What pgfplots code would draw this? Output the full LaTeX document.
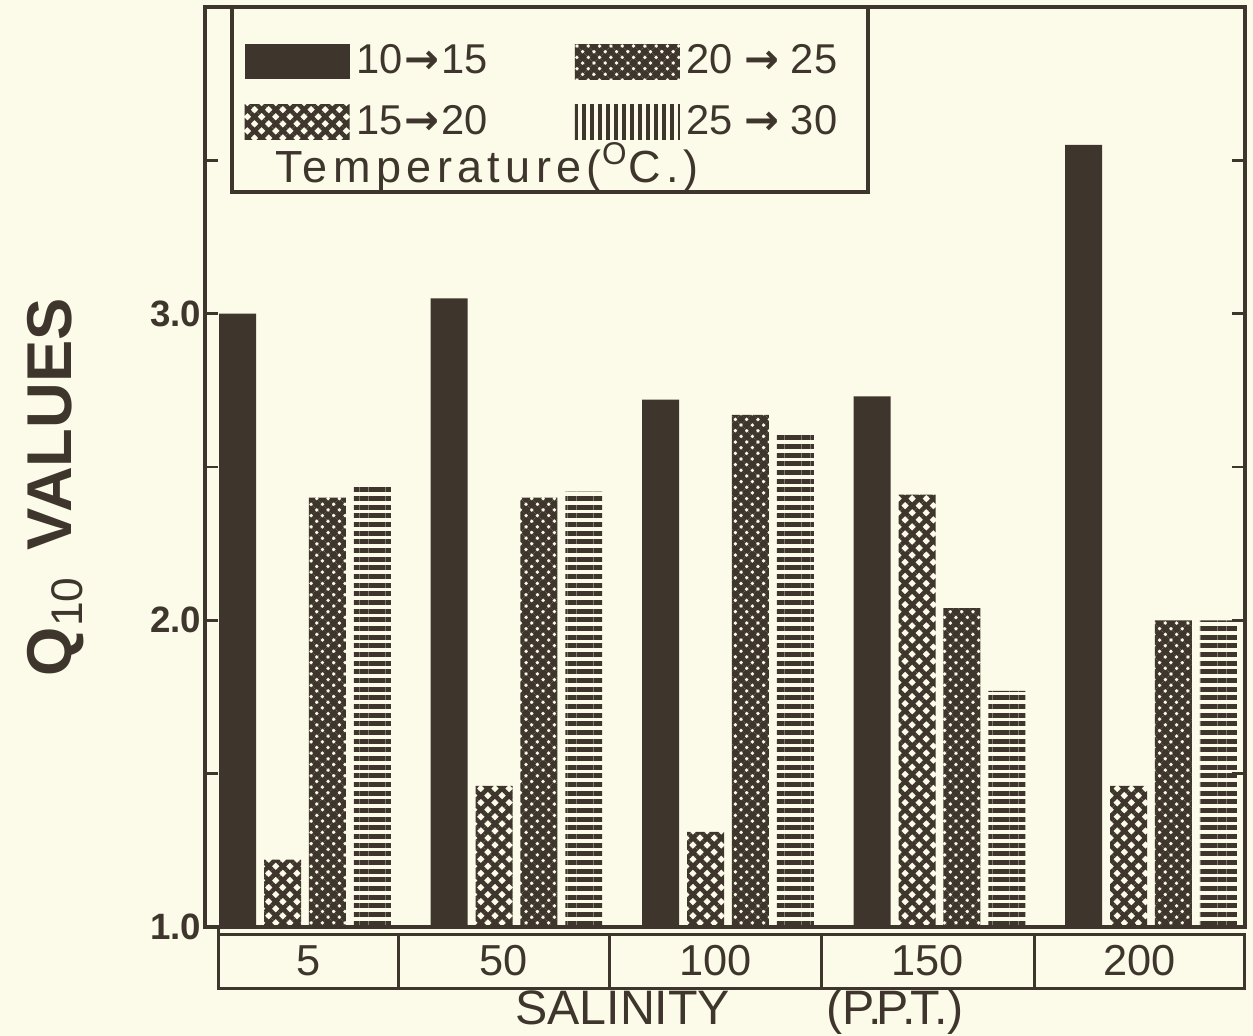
\documentclass[border=0pt]{standalone}
\usepackage{fontspec}
\setmainfont{Liberation Sans}
\newfontfamily\arrowfont{DejaVu Sans}
\usepackage{pgfplots}
\pgfplotsset{compat=1.18}
\usepackage{pgfplotstable}
\usetikzlibrary{patterns.meta}
\definecolor{ink}{RGB}{62,54,45}
\definecolor{bg}{RGB}{252,250,232}
\newcommand{\arr}{{\arrowfont\bfseries →}}

\pgfplotstableread{
x a b c d
0 3.00 1.22 2.40 2.44
1 3.05 1.46 2.40 2.42
2 2.72 1.31 2.67 2.61
3 2.73 2.41 2.04 1.77
4 3.55 1.46 2.00 2.00
}\qdata

\begin{document}
\begin{tikzpicture}
\path[use as bounding box, fill=bg] (-61.5pt,-32.7pt) rectangle (314.4pt,278.1pt);
\begin{axis}[
  scale only axis, width=312pt, height=276pt,
  at={(0,0)}, anchor=south west,
  xmin=-0.4728, xmax=4.4444, ymin=1, ymax=4,
  clip mode=individual,
  axis line style={ink, line width=1.1pt},
  ybar, bar width=0.175,
  xtick={0.0145,0.94,1.94,2.945,3.947}, xticklabels={5,50,100,150,200},
  xtick style={draw=none},
  xticklabel style={anchor=center, yshift=-10.2pt, font=\fontsize{13}{14}\selectfont, text=ink},
  ytick={1,2,3}, minor ytick={1.5,2.5,3.5},
  ytick pos=both, tick align=inside,
  major tick length=4pt, minor tick length=4pt,
  every tick/.style={ink, line width=0.8pt},
  yticklabel pos=left,
  yticklabel style={font=\fontsize{11}{12}\bfseries, text=ink, inner xsep=1pt, /pgf/number format/.cd, fixed, fixed zerofill, precision=1, assume math mode=true},
  xlabel={SALINITY\hspace{2em}(P.\kern-0.12em P.\kern-0.12em T.)},
  xlabel style={at={(axis description cs:0.514,0)}, anchor=center, yshift=-25.5pt, font=\fontsize{14.5}{16}\selectfont, text=ink},
  ylabel={Q\textsubscript{\normalfont 10}\hspace{0.4em}VALUES},
  ylabel style={at={(axis description cs:-0.144,0.478)}, anchor=center, font=\fontsize{19}{21}\bfseries, text=ink},
  legend columns=2,
  legend cell align=left,
  legend image code/.code={\fill[#1, draw=none] (0pt,-5.25pt) rectangle (31.5pt,5.25pt);},
  legend style={at={(rel axis cs:0.0375,0.967)}, anchor=north west, draw=none, fill=none,
    text=ink, font=\fontsize{12.5}{14}\selectfont, inner sep=0pt, row sep=4pt,
    /tikz/every even column/.append style={column sep=24pt}},
]
\draw[ink, line width=1pt, fill=bg] (rel axis cs:0.026,1) rectangle (rel axis cs:0.6375,0.799);
\node[anchor=west, text=ink, font=\fontsize{13.5}{15}\selectfont] at (rel axis cs:0.056,0.826)
  {\addfontfeature{LetterSpace=12}Temperature(\textsuperscript{O}C.)};

\addplot[forget plot, fill=ink, draw=none, bar shift=-0.319] table[x=x,y=a] {\qdata};
\addplot[forget plot, draw=none, pattern={Hatch[angle=45,distance=3pt,line width=1.35pt]}, pattern color=ink, bar shift=-0.106] table[x=x,y=b] {\qdata};
\addplot[forget plot, draw=none, pattern={Hatch[angle=45,distance=2.4pt,line width=1.5pt]}, pattern color=ink, bar shift=0.106] table[x=x,y=c] {\qdata};
\addplot[forget plot, draw=none, pattern={Lines[angle=0,distance=2.6pt,line width=1.5pt]}, pattern color=ink, bar shift=0.319] table[x=x,y=d] {\qdata};

\addlegendimage{fill=ink}
\addlegendentry{10\kern0.05em\arr\kern0.05em 15}
\addlegendimage{pattern={Hatch[angle=45,distance=2.4pt,line width=1.5pt]}, pattern color=ink}
\addlegendentry{20 \arr{} 25}
\addlegendimage{pattern={Hatch[angle=45,distance=3pt,line width=1.35pt]}, pattern color=ink}
\addlegendentry{15\kern0.05em\arr\kern0.05em 20}
\addlegendimage{pattern={Lines[angle=90,distance=2.4pt,line width=1.1pt]}, pattern color=ink}
\addlegendentry{25 \arr{} 30}

\draw[ink, line width=0.9pt] (axis cs:-0.411,1) -- (axis cs:-0.411,0.801) -- (axis cs:4.4444,0.801) -- (axis cs:4.4444,0.974) -- (axis cs:-0.411,0.974);
\draw[ink, line width=0.9pt] (axis cs:0.44,0.974) -- (axis cs:0.44,0.801);
\draw[ink, line width=0.9pt] (axis cs:1.44,0.974) -- (axis cs:1.44,0.801);
\draw[ink, line width=0.9pt] (axis cs:2.44,0.974) -- (axis cs:2.44,0.801);
\draw[ink, line width=0.9pt] (axis cs:3.45,0.974) -- (axis cs:3.45,0.801);
\end{axis}
\end{tikzpicture}
\end{document}
